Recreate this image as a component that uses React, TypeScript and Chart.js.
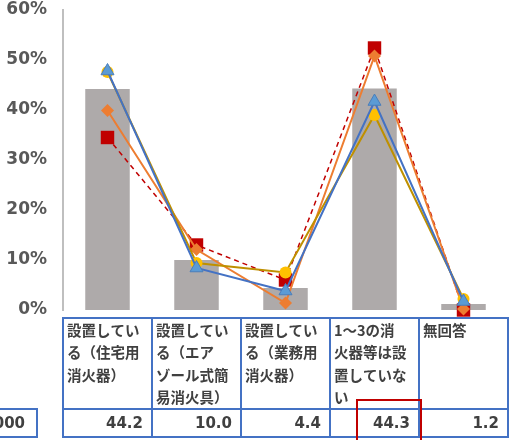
import React, { useEffect, useRef } from 'react';
import { Chart, registerables } from 'chart.js';

Chart.register(...registerables);

// ---- data ----
const categoryLines: string[][] = [
  ['設置してい', 'る（住宅用', '消火器）'],
  ['設置してい', 'る（エア', 'ゾール式簡', '易消火具）'],
  ['設置してい', 'る（業務用', '消火器）'],
  ['1～3の消', '火器等は設', '置していな', 'い'],
  ['無回答'],
];
const totalValues = [44.2, 10.0, 4.4, 44.3, 1.2];
const seriesSquare = [34.5, 13.0, 6.0, 52.4, 0.0];
const seriesDiamond = [39.9, 12.1, 1.4, 50.8, 0.2];
const seriesCircle = [47.6, 9.4, 7.5, 39.0, 2.2];
const seriesTriangle = [47.8, 8.4, 3.8, 41.7, 1.7];
const yMin = 0;
const yMax = 60;
const yStep = 10;
const leftCellLabel = '000';

const tablePlugin = {
  id: 'dataTable',
  afterDraw(chart: any) {
    const { ctx, chartArea } = chart;
    const n = categoryLines.length;
    const left = chartArea.left;
    const right = chartArea.right;
    const w = (right - left) / n;
    const top = chartArea.bottom + 8;
    const mid = chartArea.bottom + 99;
    const bot = chartArea.bottom + 127;
    ctx.save();
    ctx.strokeStyle = '#4472C4';
    ctx.lineWidth = 2;
    ctx.beginPath();
    ctx.moveTo(left - 1, top);
    ctx.lineTo(right + 1, top);
    ctx.moveTo(left - 1, mid);
    ctx.lineTo(right + 1, mid);
    ctx.moveTo(left - 1, bot);
    ctx.lineTo(right + 1, bot);
    for (let i = 0; i <= n; i++) {
      const xv = left + i * w;
      ctx.moveTo(xv, top);
      ctx.lineTo(xv, bot);
    }
    // left cell (legend key column, cut off)
    ctx.moveTo(-5, mid);
    ctx.lineTo(37, mid);
    ctx.lineTo(37, bot);
    ctx.lineTo(-5, bot);
    ctx.stroke();

    ctx.fillStyle = '#404040';
    ctx.textBaseline = 'middle';
    ctx.textAlign = 'left';
    ctx.font = "bold 14.5px 'Noto Sans CJK JP'";
    categoryLines.forEach((lines, i) => {
      const cx = left + i * w + 4;
      lines.forEach((t, j) => {
        ctx.fillText(t, cx, top + 12.5 + j * 22.4);
      });
    });
    ctx.textAlign = 'right';
    ctx.font = "bold 15px 'DejaVu Sans'";
    totalValues.forEach((v, i) => {
      ctx.fillText(v.toFixed(1), left + (i + 1) * w - 9, mid + 15);
    });
    ctx.fillText(leftCellLabel, 25, mid + 15);

    // highlight box
    ctx.strokeStyle = '#C00000';
    ctx.lineWidth = 2;
    ctx.strokeRect(left + 3 * w + 27, chartArea.bottom + 90, w - 25, 60);
    ctx.restore();
  },
};

export default function App() {
  const ref = useRef<HTMLCanvasElement>(null);
  useEffect(() => {
    if (!ref.current) return;
    const labels = categoryLines.map((l) => l.join(''));
    const chart = new Chart(ref.current, {
      type: 'bar',
      data: {
        labels,
        datasets: [
          {
            type: 'line',
            label: 'triangle',
            data: seriesTriangle,
            borderColor: '#4472C4',
            borderWidth: 2,
            pointStyle: 'triangle',
            pointRadius: 7.5,
            pointBackgroundColor: '#5B9BD5',
            pointBorderColor: '#4A7EBB',
            pointBorderWidth: 1,
            order: 1,
            clip: false,
          } as any,
          {
            type: 'line',
            label: 'circle',
            data: seriesCircle,
            borderColor: '#BF9000',
            borderWidth: 2,
            pointStyle: 'circle',
            pointRadius: 6,
            pointBackgroundColor: '#FFC000',
            pointBorderColor: '#FFC000',
            pointBorderWidth: 0,
            order: 2,
            clip: false,
          } as any,
          {
            type: 'line',
            label: 'diamond',
            data: seriesDiamond,
            borderColor: '#ED7D31',
            borderWidth: 2,
            pointStyle: 'rectRot',
            pointRadius: 6.5,
            pointBackgroundColor: '#ED7D31',
            pointBorderColor: '#ED7D31',
            pointBorderWidth: 0,
            order: 3,
            clip: false,
          } as any,
          {
            type: 'line',
            label: 'square',
            data: seriesSquare,
            borderColor: '#C00000',
            borderWidth: 1.5,
            borderDash: [5, 4],
            pointStyle: 'rect',
            pointRadius: 9.5,
            pointBackgroundColor: '#C00000',
            pointBorderColor: '#C00000',
            pointBorderWidth: 0,
            order: 4,
            clip: false,
          } as any,
          {
            type: 'bar',
            label: 'total',
            data: totalValues,
            backgroundColor: '#AEAAAA',
            categoryPercentage: 1,
            barPercentage: 0.5,
            order: 10,
          } as any,
        ],
      },
      options: {
        responsive: false,
        animation: false,
        devicePixelRatio: 1,
        layout: { autoPadding: false, padding: { left: 0, right: 2, top: 10, bottom: 130 } },
        plugins: { legend: { display: false }, tooltip: { enabled: false } },
        scales: {
          x: { display: false, offset: true },
          y: {
            min: yMin,
            max: yMax,
            afterFit: (s: any) => {
              s.width = 63;
              s.paddingTop = 0;
              s.paddingBottom = 0;
            },
            grid: { display: false, drawTicks: false },
            border: { display: true, color: '#BFBFBF', width: 2 },
            ticks: {
              stepSize: yStep,
              padding: 16,
              color: '#595959',
              font: { family: "'DejaVu Sans'", size: 17, weight: 'bold' },
              callback: (v: any) => v + '%',
            },
          },
        },
      },
      plugins: [tablePlugin],
    });
    return () => chart.destroy();
  }, []);
  return (
    <div style={{ position: 'absolute', left: 0, top: 0, width: 510, height: 440, background: '#fff' }}>
      <canvas ref={ref} width={510} height={440} />
    </div>
  );
}
